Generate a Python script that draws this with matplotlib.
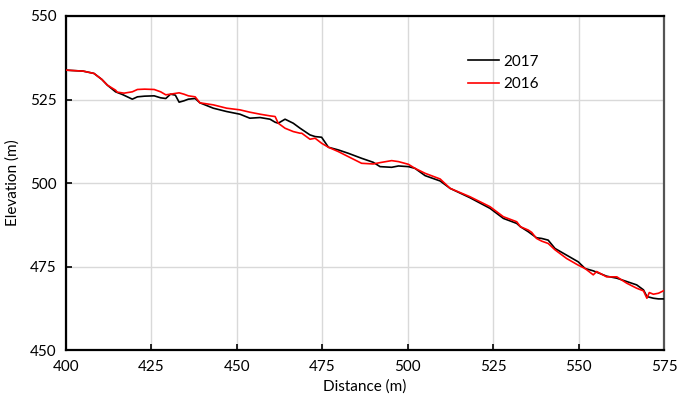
import matplotlib
matplotlib.use("Agg")
import matplotlib.pyplot as plt

# -----------------------------
# Data
# -----------------------------
dist_2017 = [400.0, 401.5, 405.0, 408.2, 410.5, 412.1, 414.5, 416.5, 419.4, 420.9,
             423.0, 425.8, 427.7, 429.2, 430.6, 432.0, 433.1, 434.5, 435.8, 437.8,
             439.2, 443.1, 447.0, 450.9, 453.8, 456.8, 459.7, 461.2, 462.1, 464.1,
             466.5, 468.5, 471.4, 472.9, 474.8, 476.8, 479.7, 482.6, 486.5, 489.9,
             491.9, 495.3, 497.3, 500.2, 502.1, 505.1, 509.5, 512.4, 518.2, 524.1,
             528.0, 531.9, 533.0, 535.3, 537.7, 539.2, 541.1, 543.1, 546.5, 549.9,
             551.9, 554.3, 558.2, 561.2, 564.1, 567.0, 569.0, 570.0, 571.9, 573.4,
             575.0]
elev_2017 = [533.8, 533.7, 533.5, 532.8, 531.0, 529.3, 527.3, 526.5, 525.1, 525.8,
             526.0, 526.1, 525.5, 525.3, 526.6, 526.3, 524.2, 524.6, 525.1, 525.3,
             524.0, 522.4, 521.4, 520.6, 519.4, 519.6, 519.1, 518.2, 517.9, 519.1,
             517.9, 516.4, 514.4, 513.9, 513.7, 510.7, 509.9, 508.9, 507.4, 506.2,
             504.9, 504.7, 505.1, 504.9, 504.4, 502.2, 500.6, 498.4, 495.6, 492.4,
             489.4, 487.9, 486.9, 485.4, 483.6, 483.4, 482.9, 480.4, 478.4, 476.4,
             474.4, 473.7, 472.1, 471.5, 470.5, 469.5, 468.0, 466.0, 465.5, 465.3,
             465.3]

dist_2016 = [400.0, 401.5, 405.0, 408.2, 410.5, 412.1, 414.5, 415.0, 417.0, 419.4,
             420.9, 423.0, 425.8, 427.7, 429.2, 430.6, 433.1, 434.5, 435.8, 437.8,
             439.2, 443.1, 447.0, 450.9, 453.8, 456.8, 459.7, 461.2, 462.1, 464.1,
             466.5, 468.5, 469.0, 471.4, 472.9, 474.8, 476.8, 479.7, 482.6, 486.5,
             489.9, 491.9, 495.3, 497.3, 500.2, 502.1, 505.1, 509.5, 512.4, 518.2,
             524.1, 528.0, 531.9, 533.0, 535.3, 536.3, 537.7, 539.2, 541.1, 543.1,
             546.5, 549.9, 551.9, 554.3, 555.3, 558.2, 561.2, 564.1, 567.0, 569.0,
             570.0, 570.7, 571.9, 573.4, 575.0]
elev_2016 = [533.8, 533.7, 533.5, 532.8, 531.0, 529.3, 527.8, 527.2, 526.9, 527.3,
             528.0, 528.1, 528.0, 527.3, 526.4, 526.6, 527.0, 526.6, 526.1, 525.8,
             524.0, 523.4, 522.4, 521.9, 521.2, 520.6, 520.1, 519.9, 517.9, 516.4,
             515.4, 514.9, 514.9, 513.1, 513.4, 511.9, 510.7, 509.4, 507.9, 505.9,
             505.7, 506.1, 506.7, 506.4, 505.6, 504.4, 502.9, 501.2, 498.4, 495.9,
             492.9, 489.9, 488.4, 486.9, 485.9, 485.2, 483.4, 482.6, 481.9, 480.0,
             477.4, 475.4, 474.4, 472.5, 473.5, 471.9, 471.9, 470.0, 468.5, 467.7,
             465.5, 467.2, 466.7, 467.0, 467.8]

x_ticks = [400, 425, 450, 475, 500, 525, 550, 575]
y_ticks = [450, 475, 500, 525, 550]


def main() -> None:
    plt.rcParams["font.family"] = ["Lato", "DejaVu Sans"]
    plt.rcParams["font.size"] = 11

    fig = plt.figure(figsize=(6.89, 3.98), dpi=100)
    ax = fig.add_axes([0.0958, 0.1206, 0.8679, 0.8392])

    ax.plot(dist_2017, elev_2017, color="black", lw=1.2, label="2017", zorder=3)
    ax.plot(dist_2016, elev_2016, color="#ff0000", lw=1.2, label="2016", zorder=3)

    ax.set_xlim(400, 575)
    ax.set_ylim(450, 550)
    ax.set_xticks(x_ticks)
    ax.set_yticks(y_ticks)
    ax.grid(True, color="#d9d9d9", lw=1.0, zorder=0)
    ax.set_axisbelow(True)

    ax.tick_params(direction="in", length=4, width=1.2, color="black",
                   labelsize=11, pad=7)
    for side in ["left", "bottom", "top"]:
        ax.spines[side].set_color("black")
        ax.spines[side].set_linewidth(1.6)
    ax.spines["right"].set_color("#555555")
    ax.spines["right"].set_linewidth(1.6)

    ax.set_xlabel("Distance (m)", fontsize=11, labelpad=4)
    ax.set_ylabel("Elevation (m)", fontsize=11, labelpad=7)

    ax.legend(loc="upper left", bbox_to_anchor=(0.65, 0.925), frameon=False,
              handlelength=2.0, handletextpad=0.3, labelspacing=0.55, fontsize=11)

    fig.savefig("out.png", dpi=100)
    plt.close(fig)


if __name__ == "__main__":
    main()
